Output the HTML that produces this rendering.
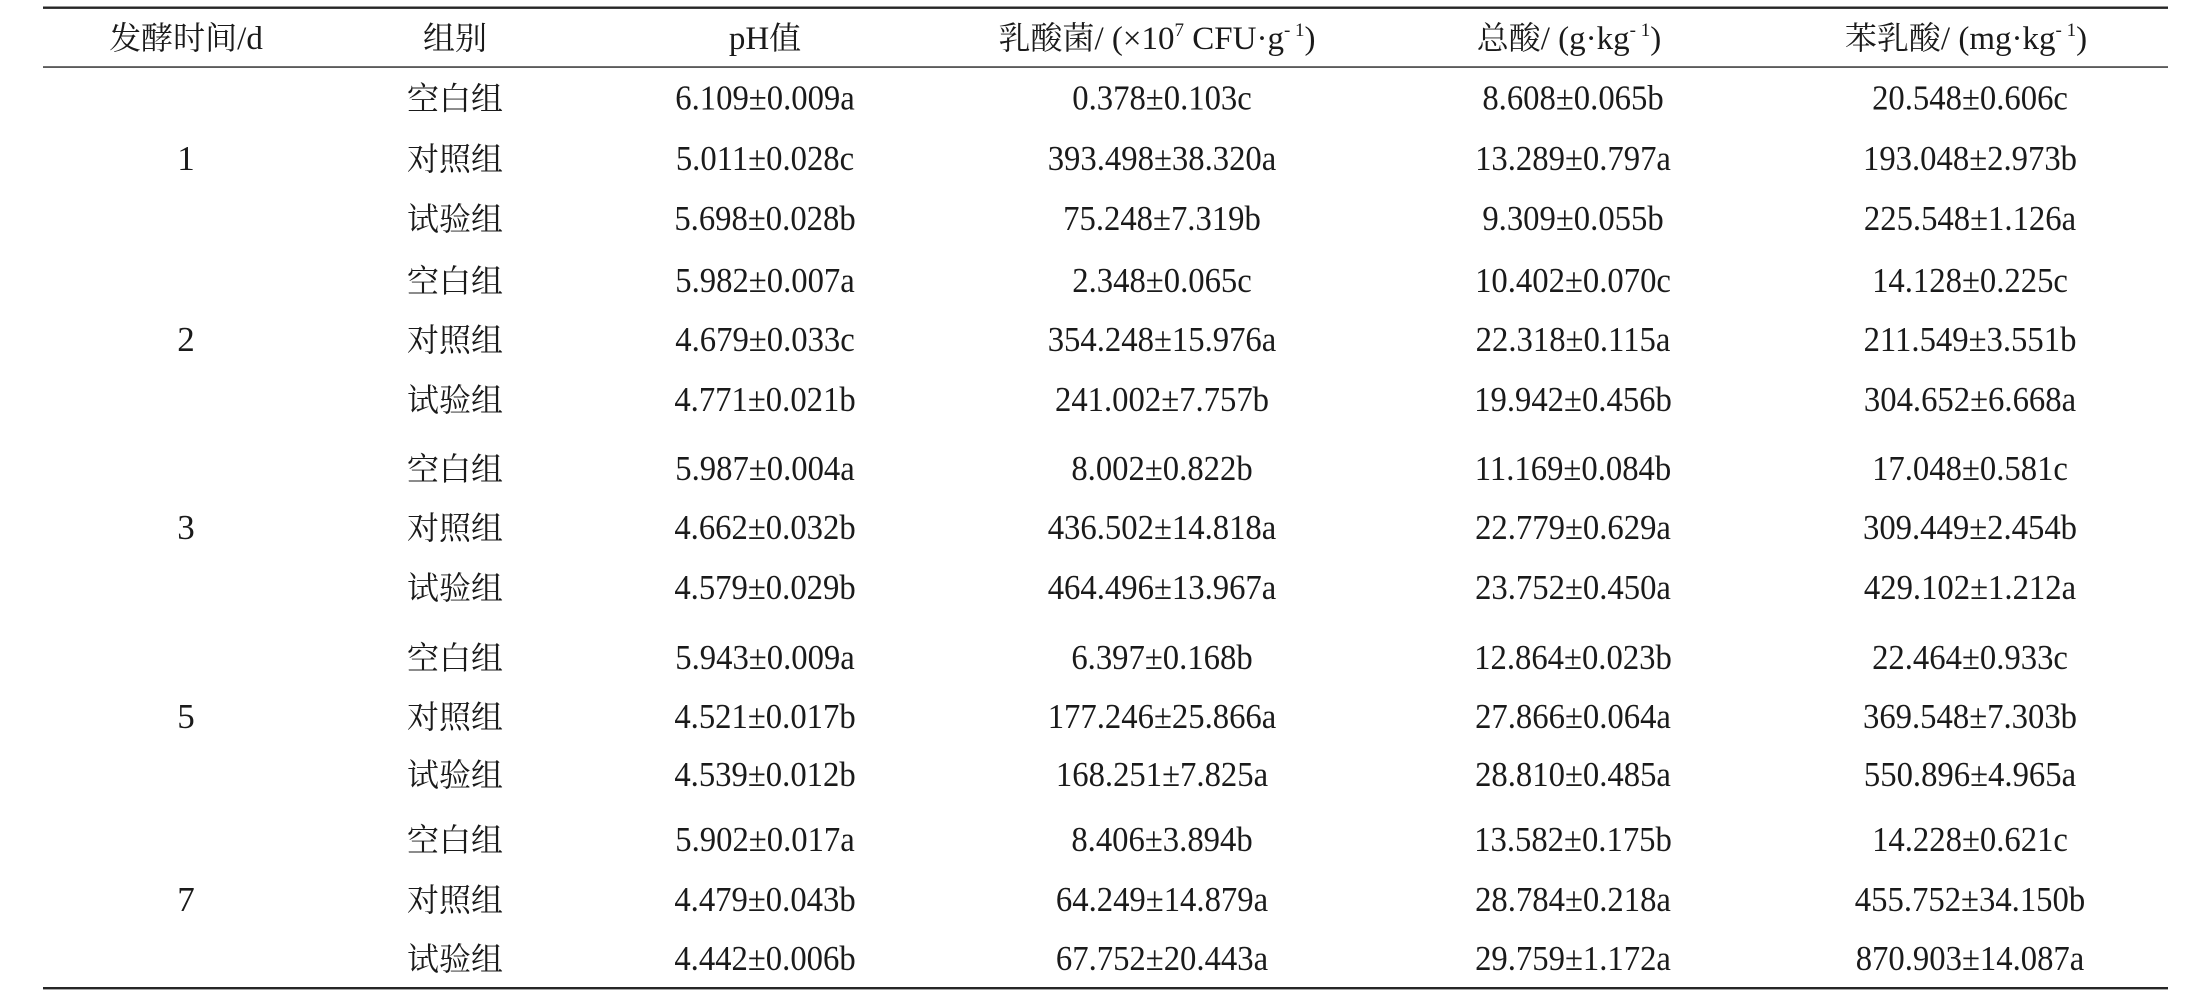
<!DOCTYPE html>
<html>
<head>
<meta charset="utf-8">
<style>
  html,body{margin:0;padding:0;background:#fff;}
  svg{display:block;}
  .cjk{font-family:"Liberation Serif","Noto Serif CJK SC",serif;font-size:32px;fill:#1a1a1a;}
  .num{font-family:"Liberation Serif","Noto Serif CJK SC",serif;font-size:35px;fill:#1a1a1a;}
  .hd{font-family:"Liberation Serif","Noto Serif CJK SC",serif;font-size:33px;fill:#1a1a1a;}
  .hc{font-size:32px;}
  .sup{font-size:19px;}
</style>
</head>
<body>
<svg width="2187" height="997" viewBox="0 0 2187 997" xmlns="http://www.w3.org/2000/svg">
  <rect width="2187" height="997" fill="#fff"/>
  <!-- rules -->
  <rect x="43" y="6.5" width="2125" height="2.4" fill="#262626"/>
  <rect x="43" y="66.3" width="2125" height="1.5" fill="#333"/>
  <rect x="43" y="987" width="2125" height="2.4" fill="#262626"/>

  <!-- header -->
  <g class="hd" text-anchor="middle">
    <text x="186" y="49"><tspan class="hc">发酵时间</tspan>/d</text>
    <text x="455" y="49"><tspan class="hc">组别</tspan></text>
    <text x="765" y="49">pH<tspan class="hc">值</tspan></text>
    <text x="1157" y="49"><tspan class="hc">乳酸菌</tspan>/ (×10<tspan class="sup" dy="-13">7</tspan><tspan dy="13"> CFU</tspan>·g<tspan class="sup" dy="-13">- 1</tspan><tspan dy="13">)</tspan></text>
    <text x="1569" y="49"><tspan class="hc">总酸</tspan>/ (g·kg<tspan class="sup" dy="-13">- 1</tspan><tspan dy="13">)</tspan></text>
    <text x="1966" y="49"><tspan class="hc">苯乳酸</tspan>/ (mg·kg<tspan class="sup" dy="-13">- 1</tspan><tspan dy="13">)</tspan></text>
  </g>

  <!-- time column -->
  <g class="num" text-anchor="middle">
    <text x="186" y="170">1</text>
    <text x="186" y="351">2</text>
    <text x="186" y="539">3</text>
    <text x="186" y="728">5</text>
    <text x="186" y="911">7</text>
  </g>

  <!-- group column -->
  <g class="cjk" text-anchor="middle">
    <text x="455" y="109.5">空白组</text>
    <text x="455" y="170">对照组</text>
    <text x="455" y="230">试验组</text>
    <text x="455" y="292">空白组</text>
    <text x="455" y="351">对照组</text>
    <text x="455" y="411">试验组</text>
    <text x="455" y="480">空白组</text>
    <text x="455" y="539">对照组</text>
    <text x="455" y="599">试验组</text>
    <text x="455" y="669">空白组</text>
    <text x="455" y="728">对照组</text>
    <text x="455" y="786">试验组</text>
    <text x="455" y="851">空白组</text>
    <text x="455" y="911">对照组</text>
    <text x="455" y="970">试验组</text>
  </g>

  <!-- data columns -->
  <g class="num" text-anchor="middle">
    <!-- row 1 -->
    <g transform="translate(765,109.5) scale(0.934,1)"><text x="0" y="0">6.109±0.009a</text></g>
    <g transform="translate(1162,109.5) scale(0.934,1)"><text x="0" y="0">0.378±0.103c</text></g>
    <g transform="translate(1573,109.5) scale(0.934,1)"><text x="0" y="0">8.608±0.065b</text></g>
    <g transform="translate(1970,109.5) scale(0.934,1)"><text x="0" y="0">20.548±0.606c</text></g>
    <!-- row 2 -->
    <g transform="translate(765,170) scale(0.934,1)"><text x="0" y="0">5.011±0.028c</text></g>
    <g transform="translate(1162,170) scale(0.934,1)"><text x="0" y="0">393.498±38.320a</text></g>
    <g transform="translate(1573,170) scale(0.934,1)"><text x="0" y="0">13.289±0.797a</text></g>
    <g transform="translate(1970,170) scale(0.934,1)"><text x="0" y="0">193.048±2.973b</text></g>
    <!-- row 3 -->
    <g transform="translate(765,230) scale(0.934,1)"><text x="0" y="0">5.698±0.028b</text></g>
    <g transform="translate(1162,230) scale(0.934,1)"><text x="0" y="0">75.248±7.319b</text></g>
    <g transform="translate(1573,230) scale(0.934,1)"><text x="0" y="0">9.309±0.055b</text></g>
    <g transform="translate(1970,230) scale(0.934,1)"><text x="0" y="0">225.548±1.126a</text></g>
    <!-- row 4 -->
    <g transform="translate(765,292) scale(0.934,1)"><text x="0" y="0">5.982±0.007a</text></g>
    <g transform="translate(1162,292) scale(0.934,1)"><text x="0" y="0">2.348±0.065c</text></g>
    <g transform="translate(1573,292) scale(0.934,1)"><text x="0" y="0">10.402±0.070c</text></g>
    <g transform="translate(1970,292) scale(0.934,1)"><text x="0" y="0">14.128±0.225c</text></g>
    <!-- row 5 -->
    <g transform="translate(765,351) scale(0.934,1)"><text x="0" y="0">4.679±0.033c</text></g>
    <g transform="translate(1162,351) scale(0.934,1)"><text x="0" y="0">354.248±15.976a</text></g>
    <g transform="translate(1573,351) scale(0.934,1)"><text x="0" y="0">22.318±0.115a</text></g>
    <g transform="translate(1970,351) scale(0.934,1)"><text x="0" y="0">211.549±3.551b</text></g>
    <!-- row 6 -->
    <g transform="translate(765,411) scale(0.934,1)"><text x="0" y="0">4.771±0.021b</text></g>
    <g transform="translate(1162,411) scale(0.934,1)"><text x="0" y="0">241.002±7.757b</text></g>
    <g transform="translate(1573,411) scale(0.934,1)"><text x="0" y="0">19.942±0.456b</text></g>
    <g transform="translate(1970,411) scale(0.934,1)"><text x="0" y="0">304.652±6.668a</text></g>
    <!-- row 7 -->
    <g transform="translate(765,480) scale(0.934,1)"><text x="0" y="0">5.987±0.004a</text></g>
    <g transform="translate(1162,480) scale(0.934,1)"><text x="0" y="0">8.002±0.822b</text></g>
    <g transform="translate(1573,480) scale(0.934,1)"><text x="0" y="0">11.169±0.084b</text></g>
    <g transform="translate(1970,480) scale(0.934,1)"><text x="0" y="0">17.048±0.581c</text></g>
    <!-- row 8 -->
    <g transform="translate(765,539) scale(0.934,1)"><text x="0" y="0">4.662±0.032b</text></g>
    <g transform="translate(1162,539) scale(0.934,1)"><text x="0" y="0">436.502±14.818a</text></g>
    <g transform="translate(1573,539) scale(0.934,1)"><text x="0" y="0">22.779±0.629a</text></g>
    <g transform="translate(1970,539) scale(0.934,1)"><text x="0" y="0">309.449±2.454b</text></g>
    <!-- row 9 -->
    <g transform="translate(765,599) scale(0.934,1)"><text x="0" y="0">4.579±0.029b</text></g>
    <g transform="translate(1162,599) scale(0.934,1)"><text x="0" y="0">464.496±13.967a</text></g>
    <g transform="translate(1573,599) scale(0.934,1)"><text x="0" y="0">23.752±0.450a</text></g>
    <g transform="translate(1970,599) scale(0.934,1)"><text x="0" y="0">429.102±1.212a</text></g>
    <!-- row 10 -->
    <g transform="translate(765,669) scale(0.934,1)"><text x="0" y="0">5.943±0.009a</text></g>
    <g transform="translate(1162,669) scale(0.934,1)"><text x="0" y="0">6.397±0.168b</text></g>
    <g transform="translate(1573,669) scale(0.934,1)"><text x="0" y="0">12.864±0.023b</text></g>
    <g transform="translate(1970,669) scale(0.934,1)"><text x="0" y="0">22.464±0.933c</text></g>
    <!-- row 11 -->
    <g transform="translate(765,728) scale(0.934,1)"><text x="0" y="0">4.521±0.017b</text></g>
    <g transform="translate(1162,728) scale(0.934,1)"><text x="0" y="0">177.246±25.866a</text></g>
    <g transform="translate(1573,728) scale(0.934,1)"><text x="0" y="0">27.866±0.064a</text></g>
    <g transform="translate(1970,728) scale(0.934,1)"><text x="0" y="0">369.548±7.303b</text></g>
    <!-- row 12 -->
    <g transform="translate(765,786) scale(0.934,1)"><text x="0" y="0">4.539±0.012b</text></g>
    <g transform="translate(1162,786) scale(0.934,1)"><text x="0" y="0">168.251±7.825a</text></g>
    <g transform="translate(1573,786) scale(0.934,1)"><text x="0" y="0">28.810±0.485a</text></g>
    <g transform="translate(1970,786) scale(0.934,1)"><text x="0" y="0">550.896±4.965a</text></g>
    <!-- row 13 -->
    <g transform="translate(765,851) scale(0.934,1)"><text x="0" y="0">5.902±0.017a</text></g>
    <g transform="translate(1162,851) scale(0.934,1)"><text x="0" y="0">8.406±3.894b</text></g>
    <g transform="translate(1573,851) scale(0.934,1)"><text x="0" y="0">13.582±0.175b</text></g>
    <g transform="translate(1970,851) scale(0.934,1)"><text x="0" y="0">14.228±0.621c</text></g>
    <!-- row 14 -->
    <g transform="translate(765,911) scale(0.934,1)"><text x="0" y="0">4.479±0.043b</text></g>
    <g transform="translate(1162,911) scale(0.934,1)"><text x="0" y="0">64.249±14.879a</text></g>
    <g transform="translate(1573,911) scale(0.934,1)"><text x="0" y="0">28.784±0.218a</text></g>
    <g transform="translate(1970,911) scale(0.934,1)"><text x="0" y="0">455.752±34.150b</text></g>
    <!-- row 15 -->
    <g transform="translate(765,970) scale(0.934,1)"><text x="0" y="0">4.442±0.006b</text></g>
    <g transform="translate(1162,970) scale(0.934,1)"><text x="0" y="0">67.752±20.443a</text></g>
    <g transform="translate(1573,970) scale(0.934,1)"><text x="0" y="0">29.759±1.172a</text></g>
    <g transform="translate(1970,970) scale(0.934,1)"><text x="0" y="0">870.903±14.087a</text></g>
  </g>
</svg>
</body>
</html>
